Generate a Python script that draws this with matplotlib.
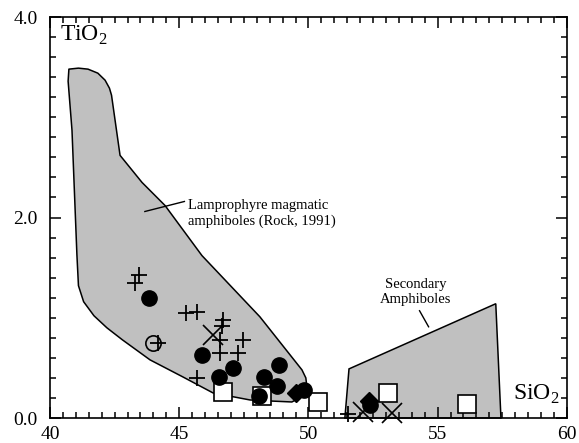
import numpy as np
import matplotlib
matplotlib.use('Agg')
import matplotlib.pyplot as plt
from matplotlib.patches import Polygon
from matplotlib.ticker import MultipleLocator

plt.rcParams['font.family'] = ['Liberation Serif', 'DejaVu Serif']
plt.rcParams['mathtext.fontset'] = 'custom'
plt.rcParams['mathtext.rm'] = 'Liberation Serif'

# field outlines (SiO2, TiO2)
lamp_si = [40.73, 41.10, 41.47, 41.85, 42.13, 42.30, 42.38, 42.71, 43.56, 44.45,
           45.88, 48.12, 49.75, 49.90, 49.94, 49.80, 49.36, 48.50, 47.74, 46.31,
           45.14, 43.87, 42.80, 42.20, 41.70, 41.30, 41.10, 41.04, 40.85, 40.70]
lamp_ti = [3.48, 3.49, 3.48, 3.44, 3.37, 3.29, 3.22, 2.62, 2.35, 2.12,
           1.62, 1.01, 0.48, 0.40, 0.31, 0.22, 0.16, 0.17, 0.18, 0.25,
           0.41, 0.58, 0.78, 0.90, 1.02, 1.16, 1.32, 1.63, 2.87, 3.36]
sec_si = [51.41, 51.57, 57.25, 57.45]
sec_ti = [0.0, 0.49, 1.14, 0.0]

# samples
plus_si = [43.44, 43.29, 45.26, 45.69, 46.69, 46.65, 46.58, 47.47, 46.58, 47.27, 45.69, 44.18, 51.53]
plus_ti = [1.43, 1.35, 1.05, 1.06, 0.98, 0.92, 0.78, 0.78, 0.65, 0.65, 0.40, 0.75, 0.04]
ocirc_si = [43.98]
ocirc_ti = [0.75]
dot_si = [43.83, 45.88, 47.08, 46.54, 48.86, 48.28, 48.78, 48.08, 49.83, 52.38]
dot_ti = [1.20, 0.63, 0.50, 0.41, 0.53, 0.41, 0.32, 0.22, 0.28, 0.13]
dia_si = [49.52, 52.34]
dia_ti = [0.25, 0.17]
sq_si = [46.69, 48.20, 50.37, 53.07, 56.13]
sq_ti = [0.26, 0.22, 0.16, 0.25, 0.14]
x_si = [46.31, 52.11, 53.23]
x_ti = [0.83, 0.06, 0.05]

fig = plt.figure(figsize=(5.79, 4.43), dpi=100)
ax = fig.add_axes([0.0864, 0.0564, 0.8926, 0.9052])

ax.add_patch(Polygon(np.column_stack([lamp_si, lamp_ti]), closed=True,
                     facecolor='#c0c0c0', edgecolor='black', lw=1.1, zorder=1,
                     joinstyle='round'))
ax.add_patch(Polygon(np.column_stack([sec_si, sec_ti]), closed=True,
                     facecolor='#c0c0c0', edgecolor='black', lw=1.1, zorder=1,
                     clip_on=False))

ax.plot(sq_si, sq_ti, 's', ms=12.5, mfc='white', mec='black', mew=1.2, zorder=3)
ax.plot(dot_si, dot_ti, 'o', ms=11, mfc='black', mec='black', zorder=4)
ax.plot(dia_si, dia_ti, 'D', ms=9, mfc='black', mec='black', zorder=4)
ax.plot(ocirc_si, ocirc_ti, 'o', ms=11, mfc='none', mec='black', mew=1.2, zorder=4)
ax.plot(plus_si, plus_ti, '+', ms=12, mec='black', mew=1.3, zorder=5, clip_on=False)
ax.plot(x_si, x_ti, 'x', ms=14, mec='black', mew=1.2, zorder=5, clip_on=False)

ax.set_xlim(40, 60)
ax.set_ylim(0, 4)
ax.xaxis.set_major_locator(MultipleLocator(5))
ax.xaxis.set_minor_locator(MultipleLocator(0.5))
ax.yaxis.set_major_locator(MultipleLocator(2))
ax.yaxis.set_minor_locator(MultipleLocator(0.2))
ax.yaxis.set_major_formatter(plt.FormatStrFormatter('%.1f'))
ax.tick_params(which='both', direction='in', top=True, right=True, labelsize=14,
               width=1.1, colors='black')
ax.tick_params(which='major', length=8)
ax.tick_params(which='minor', length=4)
ax.tick_params(axis='x', which='major', pad=6)
ax.tick_params(axis='y', which='major', pad=9)
for s in ax.spines.values():
    s.set_linewidth(1.2)

ax.text(40.4, 3.93, r'TiO$_2$', fontsize=17, va='top', ha='left')
ax.text(59.7, 0.12, r'SiO$_2$', fontsize=17, va='bottom', ha='right')

ax.text(45.35, 2.04, 'Lamprophyre magmatic\namphiboles (Rock, 1991)', fontsize=10.5,
        va='center', ha='left', linespacing=1.2)
ax.plot([43.67, 45.2], [2.06, 2.16], color='black', lw=1)

ax.text(54.15, 1.26, 'Secondary\nAmphiboles', fontsize=10.5, va='center', ha='center',
        linespacing=1.2)
ax.plot([54.3, 54.65], [1.07, 0.91], color='black', lw=1)

fig.savefig('out.png', dpi=100)
